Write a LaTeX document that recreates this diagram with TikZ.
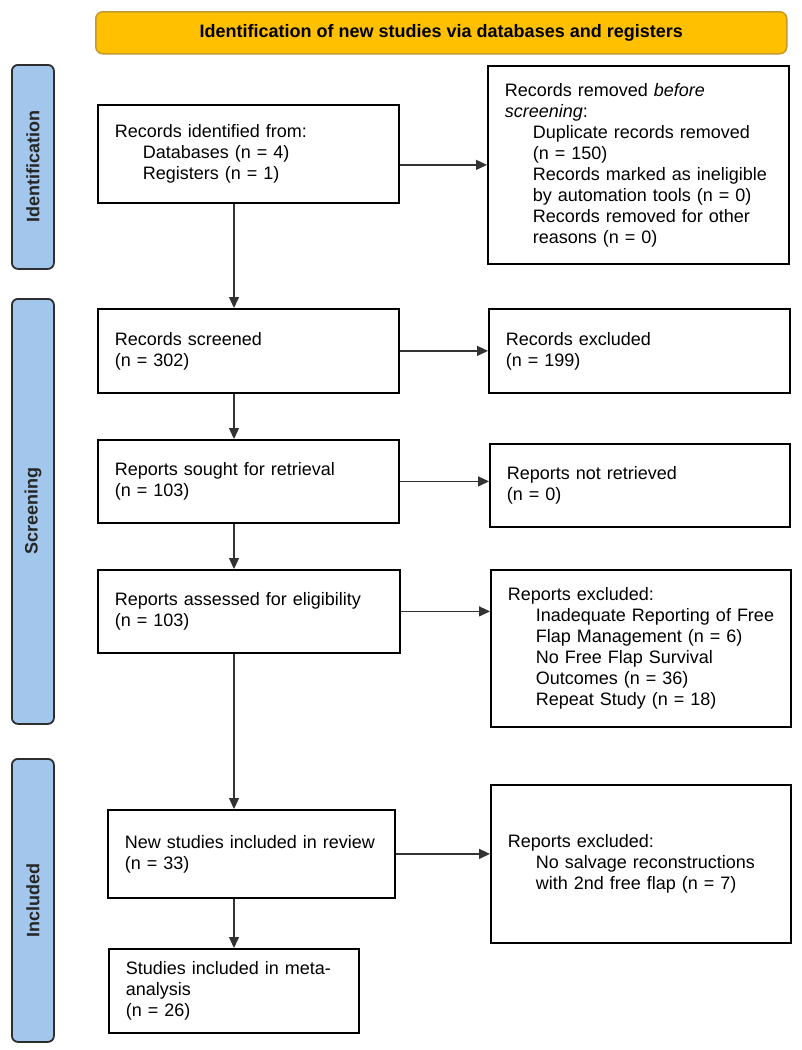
\documentclass[tikz,border=0pt]{standalone}
\usepackage{fontspec}
\setmainfont{Liberation Sans}
\usetikzlibrary{arrows.meta}
\definecolor{hdrfill}{HTML}{FFC000}
\definecolor{hdrdraw}{HTML}{C49A2C}
\definecolor{sidefill}{HTML}{A3C7EC}
\definecolor{sidedraw}{HTML}{2E2E2E}
\definecolor{arr}{HTML}{333333}
\newcommand\ind{\hspace*{28pt}}
\begin{document}
\begin{tikzpicture}[x=1pt,y=-1pt,
  txt/.style={font=\fontsize{18}{21}\selectfont},
  box/.style={txt, draw=black, line width=1.8pt, fill=white, anchor=north west,
    inner xsep=17pt, inner ysep=0pt, align=left},
  header/.style={draw=hdrdraw, fill=hdrfill, line width=1.5pt, rounded corners=7pt,
    anchor=north west, inner sep=0pt, font=\fontsize{18}{21}\selectfont\bfseries},
  side/.style={draw=sidedraw, fill=sidefill, line width=1.8pt, rounded corners=6pt,
    anchor=north west, inner sep=0pt},
  sidelabel/.style={rotate=90, font=\fontsize{18}{21}\selectfont\bfseries, text=black!85},
  arrow/.style={draw=arr, line width=1.3pt, -{Triangle[length=11pt,width=10pt]}},
  link/.style={draw=arr, line width=1.3pt}
]
\useasboundingbox (0,0) rectangle (801,1050);

% header
\node[header, minimum width=691pt, minimum height=42pt] (hdr) at (95,11)
  {Identification of new studies via databases and registers};

% side bars
\node[side, minimum width=42pt, minimum height=204pt] (sid) at (11,64) {};
\node[sidelabel] (sidl) at (sid.center) {Identification};
\node[side, minimum width=42pt, minimum height=425pt] (sscr) at (11,298) {};
\node[sidelabel] (sscrl) at (sscr.center) {Screening};
\node[side, minimum width=42pt, minimum height=283pt] (sinc) at (11,758) {};
\node[sidelabel] (sincl) at (sinc.center) {Included};

% boxes
\node[box, minimum width=301pt, minimum height=98pt, text width=267pt] (idbox) at (97,104)
  {Records identified from:\\ \ind Databases (n = 4)\\ \ind Registers (n = 1)};
\node[box, minimum width=301pt, minimum height=198pt, text width=267pt] (removed) at (487,65)
  {Records removed \emph{before}\\ \emph{screening}:\\ \ind Duplicate records removed\\ \ind (n = 150)\\
   \ind Records marked as ineligible\\ \ind by automation tools (n = 0)\\
   \ind Records removed for other\\ \ind reasons (n = 0)};
\node[box, minimum width=301pt, minimum height=84pt, text width=267pt] (screened) at (97,308)
  {Records screened\\ (n = 302)};
\node[box, minimum width=301pt, minimum height=84pt, text width=267pt] (rexcl) at (488,308)
  {Records excluded\\ (n = 199)};
\node[box, minimum width=301pt, minimum height=83pt, text width=267pt] (sought) at (97,439)
  {Reports sought for retrieval\\ (n = 103)};
\node[box, minimum width=300pt, minimum height=83pt, text width=266pt] (notret) at (489,443)
  {Reports not retrieved\\ (n = 0)};
\node[box, minimum width=302pt, minimum height=83pt, text width=268pt] (assess) at (97,569)
  {Reports assessed for eligibility\\ (n = 103)};
\node[box, minimum width=300pt, minimum height=157pt, text width=266pt] (repexcl) at (490,569)
  {Reports excluded:\\ \mbox{\ind Inadequate Reporting of Free}\\ \ind Flap Management (n = 6)\\
   \ind No Free Flap Survival\\ \ind Outcomes (n = 36)\\ \ind Repeat Study (n = 18)};
\node[box, minimum width=287pt, minimum height=88pt, text width=253pt] (newst) at (107,809)
  {New studies included in review\\ (n = 33)};
\node[box, minimum width=300pt, minimum height=158pt, text width=266pt] (salv) at (490,784)
  {Reports excluded:\\ \ind No salvage reconstructions\\ \ind with 2nd free flap (n = 7)};
\node[box, minimum width=250pt, minimum height=84pt, text width=216pt] (meta) at (108,948)
  {Studies included in meta-\\ analysis\\ (n = 26)};

% spine for vertical arrows
\coordinate (spine) at (234,0);

% vertical arrows
\draw[arrow] (idbox.south -| spine) -- (screened.north -| spine);
\draw[arrow] (screened.south -| spine) -- (sought.north -| spine);
\draw[arrow] (sought.south -| spine) -- (assess.north -| spine);
\draw[arrow] (assess.south -| spine) -- (newst.north -| spine);
\draw[arrow] (newst.south -| spine) -- (meta.north -| spine);

% horizontal arrows
\draw[arrow] (idbox.east |- removed.west) -- (removed.west);
\draw[arrow] (screened.east) -- (screened.east -| rexcl.west);
\draw[arrow] (sought.east) -- (sought.east -| notret.west);
\draw[arrow] (assess.east) -- (assess.east -| repexcl.west);
\draw[arrow] (newst.east) -- (newst.east -| salv.west);
\end{tikzpicture}
\end{document}
